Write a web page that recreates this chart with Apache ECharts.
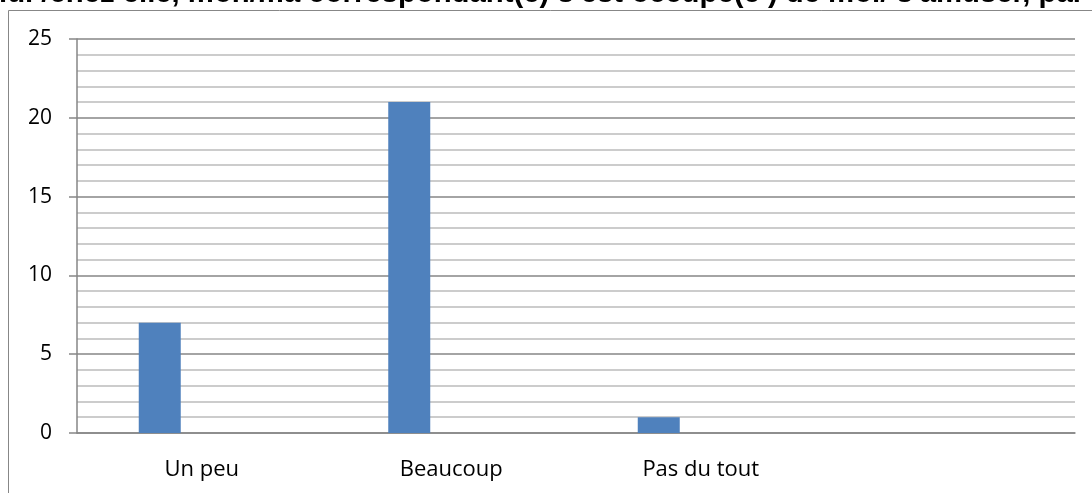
<!DOCTYPE html>
<html style="height: 100%">
    <head>
        <meta charset="utf-8">
    </head>
    <body style="height: 100%; margin: 0">
        <div id="container" style="width: 1092px; height: 493px"></div>

        <script type="text/javascript" src="https://cdn.jsdelivr.net/npm/echarts@6/dist/echarts.min.js"></script>
        <script type="text/javascript">
var categories = ['Un peu', 'Beaucoup', 'Pas du tout', ''];
var serie1 = [7, 21, 1, null];
var serie2 = [null, null, null, null];
var serie3 = [null, null, null, null];
var yTicks = [0, 5, 10, 15, 20, 25];

var dom = document.getElementById('container');
var myChart = echarts.init(dom);

var option = {
    animation: false,
    backgroundColor: '#ffffff',
    textStyle: {fontFamily: 'Open Sans'},
    title: {
        text: "lui /chez elle, mon/ma correspondant(e) s'est occupé(e ) de moi/ s'amuser, par",
        left: -6,
        top: -26,
        textStyle: {
            fontFamily: 'Liberation Sans',
            fontWeight: 'bold',
            fontSize: 29.3,
            color: '#000'
        }
    },
    graphic: [{
        type: 'rect',
        silent: true,
        z: 100,
        shape: {x: 8.5, y: 10.5, width: 1200, height: 600},
        style: {fill: 'none', stroke: '#878787', lineWidth: 1}
    }],
    grid: {left: 77, right: 17, top: 39, bottom: 60},
    xAxis: {
        type: 'category',
        data: categories,
        axisTick: {show: false},
        axisLine: {lineStyle: {color: '#868686', width: 1.5}},
        axisLabel: {margin: 26, fontSize: 22, color: '#000', fontFamily: 'Open Sans'}
    },
    yAxis: {
        type: 'value',
        min: yTicks[0],
        max: yTicks[yTicks.length - 1],
        interval: 5,
        axisLine: {show: true, lineStyle: {color: '#868686', width: 1.5}},
        axisTick: {show: true, length: 8, lineStyle: {color: '#868686', width: 1.5}},
        axisLabel: {margin: 25, fontSize: 21, color: '#000', fontFamily: 'Open Sans'},
        splitLine: {lineStyle: {color: '#868686', width: 1.5}},
        minorTick: {show: false, splitNumber: 5},
        minorSplitLine: {show: true, lineStyle: {color: '#bcbcbc', width: 1.5}}
    },
    series: [
        {type: 'bar', data: serie1, barWidth: 42, barGap: '0%', itemStyle: {color: '#4f81bd'}},
        {type: 'bar', data: serie2, barWidth: 42, itemStyle: {color: '#c0504d'}},
        {type: 'bar', data: serie3, barWidth: 42, itemStyle: {color: '#9bbb59'}}
    ]
};

myChart.setOption(option);
        </script>
    </body>
</html>
